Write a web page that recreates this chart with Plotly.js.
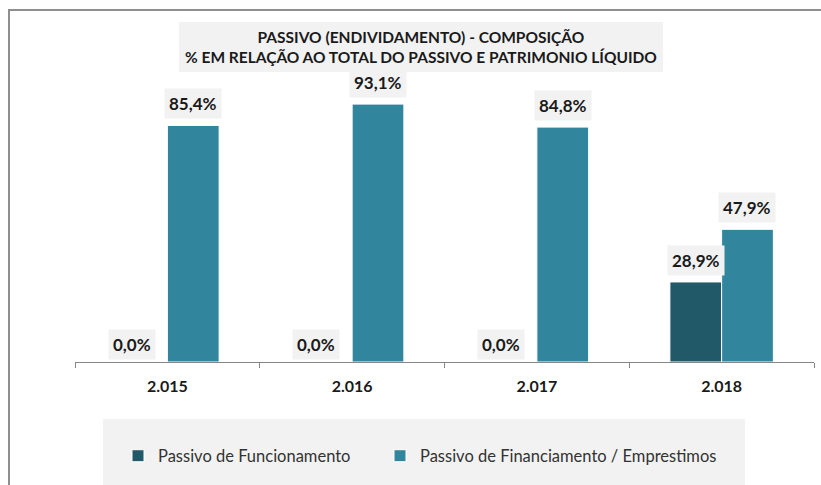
<!DOCTYPE html>
<html>
<head>
<meta charset="utf-8">
<script src="https://cdn.plot.ly/plotly-3.0.1.min.js"></script>
<style>
  html, body { margin: 0; padding: 0; background: #ffffff; }
  #wrap { position: relative; width: 821px; height: 485px; overflow: hidden; }
  #frame { position: absolute; left: 8px; top: 9px; width: 900px; height: 600px;
           border-left: 2px solid #8f8f8f; border-top: 2px solid #8f8f8f; box-sizing: border-box; }
  #chart { position: absolute; left: 0; top: 0; width: 821px; height: 485px; }
</style>
</head>
<body>
<div id="wrap">
  <div id="frame"></div>
  <div id="chart"></div>
</div>
<script>
// ---- data ----
const categories = ["2.015", "2.016", "2.017", "2.018"];
const seriesNames = ["Passivo de Funcionamento", "Passivo de Financiamento / Emprestimos"];
const funcionamento = [0.0, 0.0, 0.0, 28.9];
const financiamento = [85.4, 93.1, 84.8, 47.9];
const titleLines = ["PASSIVO (ENDIVIDAMENTO) - COMPOSIÇÃO", "% EM RELAÇÃO AO TOTAL DO PASSIVO E PATRIMONIO LÍQUIDO"];

// ---- style ----
const FONT = "Lato, 'Open Sans', sans-serif";
const colors = ["#215968", "#31859c"];
const W = 821, H = 485;
const margin = {l: 75, r: 7, t: 85, b: 123};
const plotW = W - margin.l - margin.r;
const plotH = H - margin.t - margin.b;
const bargap = 0.44;
const catW = plotW / categories.length;
const barOff = catW * (1 - bargap) / 4;   // half bar width
const px2x = p => (p - margin.l) / plotW;
const py2y = p => (H - margin.b - p) / plotH;

const fmt = v => v.toFixed(1).replace(".", ",") + "%";

const legendIds = ["legend", "legend2"];
const traces = [funcionamento, financiamento].map((vals, i) => ({
  type: "bar",
  name: seriesNames[i],
  x: categories,
  y: vals,
  legend: legendIds[i],
  marker: {color: colors[i], line: {color: "#ffffff", width: 1}},
  hoverinfo: "skip"
}));

const annotations = [];
[funcionamento, financiamento].forEach((vals, i) => {
  vals.forEach((v, j) => {
    annotations.push({
      x: j, y: v, xref: "x", yref: "y",   // category index j -> categories[j]
      text: "<b>" + fmt(v) + "</b>",
      showarrow: false, xanchor: "center", yanchor: "bottom",
      xshift: (i === 0 ? -barOff : barOff) + (v === 0 ? -10 : 0),
      yshift: v === 0 ? 2 : 6,
      bgcolor: "#f2f2f2", borderpad: 4,
      font: {family: FONT, size: 17, color: "#1a1a1a"}
    });
  });
});
annotations.push({
  xref: "paper", yref: "paper", x: px2x(421), y: py2y(47),
  xanchor: "center", yanchor: "middle", showarrow: false,
  text: "<b>" + titleLines[0] + "</b><br><b>" + titleLines[1] + "</b>",
  font: {family: FONT, size: 15.5, color: "#1a1a1a"}
});

const shapes = [
  {type: "rect", xref: "paper", yref: "paper", layer: "below",
   x0: px2x(179), x1: px2x(663), y0: py2y(72), y1: py2y(22),
   fillcolor: "#f2f2f2", line: {width: 0}},
  {type: "rect", xref: "paper", yref: "paper", layer: "below",
   x0: px2x(103), x1: px2x(745), y0: py2y(495), y1: py2y(419),
   fillcolor: "#f2f2f2", line: {width: 0}}
];

const legendStyle = (leftPx) => ({
  orientation: "h", x: px2x(leftPx), xanchor: "left", y: py2y(456), yanchor: "middle",
  bgcolor: "rgba(0,0,0,0)", font: {family: FONT, size: 16.5, color: "#333333"}
});

const layout = {
  width: W, height: H,
  margin: margin,
  paper_bgcolor: "rgba(0,0,0,0)",
  plot_bgcolor: "rgba(0,0,0,0)",
  barmode: "group",
  bargap: bargap,
  bargroupgap: 0,
  font: {family: FONT, color: "#262626"},
  xaxis: {
    type: "category",
    showgrid: false, zeroline: false,
    showline: true, linecolor: "#868686", linewidth: 1,
    ticks: "outside", tickson: "boundaries", ticklen: 5, tickcolor: "#868686",
    tickfont: {family: FONT, size: 16, color: "#1a1a1a", weight: "bold"},
    ticklabelstandoff: 10,
    fixedrange: true
  },
  yaxis: {
    range: [0, 100], visible: false, showgrid: false, zeroline: false, fixedrange: true
  },
  showlegend: true,
  legend: legendStyle(118),
  legend2: legendStyle(380),
  annotations: annotations,
  shapes: shapes
};

Plotly.newPlot("chart", traces, layout, {displayModeBar: false, staticPlot: true});
</script>
</body>
</html>
